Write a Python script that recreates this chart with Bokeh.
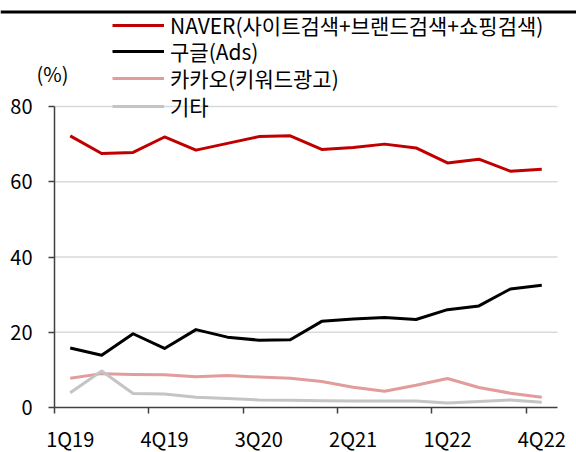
from bokeh.plotting import figure
from bokeh.models import (Legend, LegendItem, LinearAxis, FixedTicker, Label, Span, Range1d)
from bokeh.embed import file_html
from bokeh.resources import INLINE

FONT = "Noto Sans CJK KR"

quarters = ["1Q19", "2Q19", "3Q19", "4Q19", "1Q20", "2Q20", "3Q20", "4Q20",
            "1Q21", "2Q21", "3Q21", "4Q21", "1Q22", "2Q22", "3Q22", "4Q22"]
naver = [72.2, 67.5, 67.8, 71.9, 68.4, 70.2, 72.0, 72.2, 68.6, 69.1, 70.0, 69.0, 65.0, 66.0, 62.8, 63.3]
google = [15.8, 13.9, 19.6, 15.7, 20.7, 18.7, 17.9, 18.0, 22.9, 23.5, 23.9, 23.4, 26.0, 27.0, 31.5, 32.5]
kakao = [7.8, 9.0, 8.8, 8.7, 8.2, 8.5, 8.1, 7.8, 6.9, 5.4, 4.3, 5.9, 7.7, 5.3, 3.8, 2.7]
other = [3.9, 9.7, 3.7, 3.6, 2.7, 2.4, 2.0, 1.9, 1.8, 1.7, 1.7, 1.7, 1.2, 1.6, 2.0, 1.4]

series_names = ["NAVER(사이트검색+브랜드검색+쇼핑검색)", "구글(Ads)", "카카오(키워드광고)", "기타"]
series_values = [naver, google, kakao, other]
colors = ["#C00000", "#000000", "#E39C9C", "#C4C4C4"]
y_ticks = [0, 20, 40, 60, 80]
label_step = 3
unit_label = "(%)"

n = len(quarters)
xs = list(range(n))
y_max = y_ticks[-1]

W, H = 576, 452
# the frame covers the whole canvas; the data box is placed through the ranges
p = figure(width=W, height=H,
           x_range=Range1d(-2.2177, 16.1044), y_range=Range1d(-11.960, 108.173),
           output_backend="svg", toolbar_location=None,
           min_border_left=0, min_border_right=0, min_border_top=0, min_border_bottom=0)
p.outline_line_color = None
p.xgrid.visible = False
p.ygrid.visible = False

# horizontal grid lines limited to the data box
grid_vals = [t for t in y_ticks if t > 0]
p.segment(x0=[-0.5] * len(grid_vals), x1=[n - 0.5] * len(grid_vals),
          y0=grid_vals, y1=grid_vals, line_color="#D9D9D9", line_width=1.5)

# y axis
ya = p.yaxis[0]
ya.fixed_location = -0.5
ya.bounds = (0, y_max)
ya.ticker = FixedTicker(ticks=y_ticks)
ya.major_tick_out = 6
ya.major_tick_in = 0
ya.minor_tick_line_color = None
ya.axis_line_color = "#404040"
ya.axis_line_width = 1.5
ya.major_tick_line_color = "#404040"
ya.major_tick_line_width = 1.5
ya.major_label_text_font = FONT
ya.major_label_text_font_size = "20px"
ya.major_label_text_color = "#000000"
ya.major_label_standoff = 16

# x axis: tick marks at category boundaries
xa = p.xaxis[0]
label_idx = list(range(0, n, label_step))
xa.fixed_location = 0
xa.bounds = (-0.5, n - 0.5)
xa.ticker = FixedTicker(ticks=[i - 0.5 for i in label_idx])
xa.major_tick_out = 6
xa.major_tick_in = 0
xa.minor_tick_line_color = None
xa.axis_line_color = "#404040"
xa.axis_line_width = 1.5
xa.major_tick_line_color = "#404040"
xa.major_tick_line_width = 1.5
xa.major_label_text_font_size = "1px"
xa.major_label_text_alpha = 0

# x axis labels centered on points
xl = LinearAxis(ticker=FixedTicker(ticks=label_idx),
                major_label_overrides={i: quarters[i] for i in label_idx},
                fixed_location=0,
                axis_line_color=None, major_tick_line_color=None,
                minor_tick_line_color=None, major_tick_out=0, major_tick_in=0,
                major_label_text_font=FONT, major_label_text_font_size="20px",
                major_label_text_color="#000000", major_label_standoff=16)
p.add_layout(xl, "below")

renderers = []
for vals, c in zip(series_values, colors):
    r = p.line(xs, vals, line_color=c, line_width=3, line_join="round")
    renderers.append(r)

# one legend per entry so the rows can sit closer than the font's line height
legend_rows_bottom = [412, 386, 359, 331]
for nm, r, vy in zip(series_names, renderers, legend_rows_bottom):
    lg = Legend(items=[LegendItem(label=nm, renderers=[r])],
                location=(112, vy), orientation="vertical",
                label_text_font=FONT, label_text_font_size="21px", label_text_color="#000000",
                glyph_width=52, glyph_height=22, label_height=22, label_standoff=6,
                spacing=0, padding=0, margin=0,
                border_line_color=None, background_fill_alpha=0)
    p.add_layout(lg)

p.add_layout(Label(x=52, y=379, x_units="screen", y_units="screen", text=unit_label,
                   text_align="center", text_baseline="middle",
                   text_font=FONT, text_font_size="20px", text_color="#000000"))

p.add_layout(Span(location=105.117, dimension="width", line_color="#000000", line_width=3))

open("out.html", "w").write(file_html(p, INLINE))
